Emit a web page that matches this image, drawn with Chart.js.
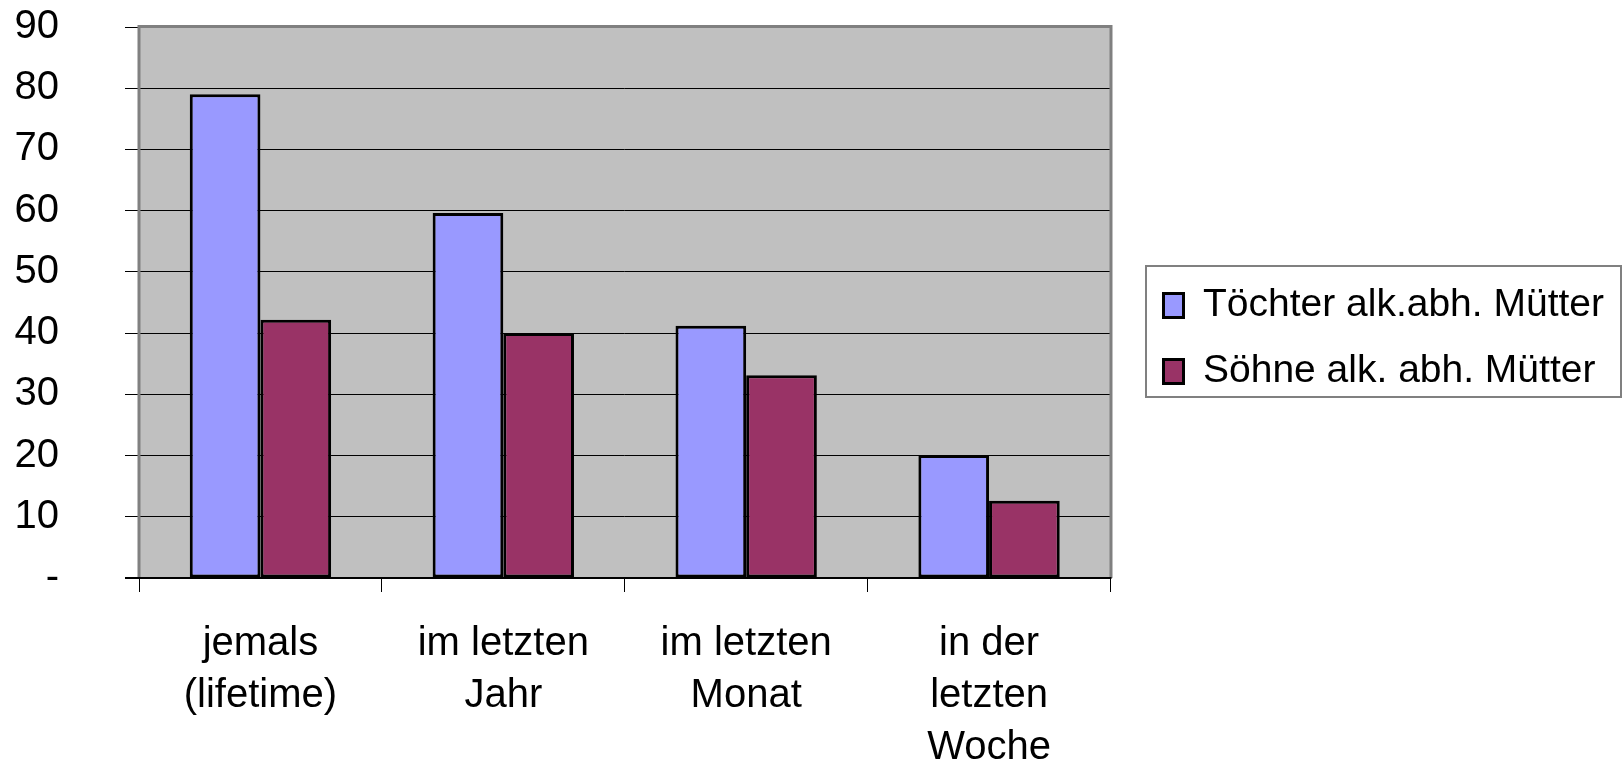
<!DOCTYPE html>
<html lang="de">
<head>
<meta charset="utf-8">
<title>Alkoholkonsum – Kinder alkoholabhängiger Mütter</title>
<script src="https://cdn.jsdelivr.net/npm/chart.js@4.4.1/dist/chart.umd.min.js"></script>
<style>
    html, body { margin: 0; padding: 0; background: #ffffff; }
    canvas { display: block; }
</style>
</head>
<body>
<canvas id="chart-konsum" width="1624" height="763"></canvas>
<script>
// --- Daten ---
const kategorien = [
    ['jemals', '(lifetime)'],
    ['im letzten', 'Jahr'],
    ['im letzten', 'Monat'],
    ['in der', 'letzten', 'Woche']
];
const serienNamen = ['Töchter alk.abh. Mütter', 'Söhne alk. abh. Mütter'];
const werteToechter = [79, 59.6, 41.2, 20.1];
const werteSoehne = [42.2, 40, 33.1, 12.6];
const yTickWerte = [0, 10, 20, 30, 40, 50, 60, 70, 80, 90];
const yTickTexte = ['-', '10', '20', '30', '40', '50', '60', '70', '80', '90'];

const schrift = "'Liberation Sans', Arial, sans-serif";

// Plotfläche grau hinterlegen, Rahmen zeichnen, Legende verschieben und einrahmen
const excelStil = {
    id: 'excelStil',
    beforeDraw(chart) {
        const a = chart.chartArea;
        const ctx = chart.ctx;
        ctx.save();
        ctx.fillStyle = '#c0c0c0';
        ctx.fillRect(a.left, a.top, a.right - a.left, a.bottom - a.top);
        ctx.restore();
    },
    afterDatasetsDraw(chart) {
        const a = chart.chartArea;
        const ctx = chart.ctx;
        ctx.save();
        // Rahmen oben, links, rechts (grau)
        ctx.strokeStyle = '#808080';
        ctx.lineWidth = 3;
        ctx.beginPath();
        ctx.moveTo(a.left, a.bottom);
        ctx.lineTo(a.left, a.top - 0.5);
        ctx.lineTo(a.right + 0.5, a.top - 0.5);
        ctx.lineTo(a.right + 0.5, a.bottom);
        ctx.stroke();
        // Grundlinie (schwarz)
        ctx.strokeStyle = '#000000';
        ctx.lineWidth = 2;
        ctx.beginPath();
        ctx.moveTo(a.left - 14, a.bottom);
        ctx.lineTo(a.right + 1, a.bottom);
        ctx.stroke();
        ctx.restore();
    },
    afterLayout(chart) {
        const lg = chart.legend;
        if (!lg) return;
        const breite = lg.width;
        lg.left = chart.chartArea.right + 26;
        lg.right = lg.left + breite;
        lg.top = 259;
    },
    afterDraw(chart) {
        const ctx = chart.ctx;
        ctx.save();
        ctx.strokeStyle = '#808080';
        ctx.lineWidth = 2;
        ctx.strokeRect(1146, 266, 475, 131);
        ctx.restore();
    }
};

document.addEventListener('DOMContentLoaded', function() {
    const ctx = document.getElementById('chart-konsum');

    new Chart(ctx, {
        type: 'bar',
        data: {
            labels: kategorien,
            datasets: [{
                label: serienNamen[0],
                data: werteToechter,
                backgroundColor: '#9999ff',
                borderColor: '#000000',
                borderWidth: 3,
                borderSkipped: false
            }, {
                label: serienNamen[1],
                data: werteSoehne,
                backgroundColor: '#993366',
                borderColor: '#000000',
                borderWidth: 3,
                borderSkipped: false
            }]
        },
        options: {
            responsive: false,
            animation: false,
            layout: { padding: { left: 0, top: 27, right: 36, bottom: 0 } },
            datasets: {
                bar: { categoryPercentage: 0.582, barPercentage: 1 }
            },
            scales: {
                x: {
                    offset: true,
                    border: { display: false },
                    grid: {
                        offset: true,
                        drawOnChartArea: false,
                        drawTicks: true,
                        tickLength: 14,
                        tickColor: '#000000',
                        tickWidth: 1
                    },
                    ticks: {
                        color: '#000000',
                        font: { family: schrift, size: 40, lineHeight: 1.3 },
                        padding: 26,
                        maxRotation: 0,
                        minRotation: 0,
                        autoSkip: false
                    },
                    afterFit(scale) { scale.height = 185; }
                },
                y: {
                    min: 0,
                    max: 90,
                    border: { display: false },
                    grid: {
                        color: '#000000',
                        lineWidth: 1,
                        tickLength: 14,
                        tickColor: '#000000'
                    },
                    ticks: {
                        stepSize: 10,
                        color: '#000000',
                        padding: 66,
                        font: { family: schrift, size: 40 },
                        callback: function(value) {
                            const i = yTickWerte.indexOf(value);
                            return i >= 0 ? yTickTexte[i] : value;
                        }
                    },
                    afterFit(scale) {
                        // feste Achsenbreite, kein Zusatzabstand oben/unten durch ticks.padding
                        scale.width = 139;
                        scale.paddingTop = 0;
                        scale.paddingBottom = 0;
                    }
                }
            },
            plugins: {
                legend: {
                    position: 'right',
                    align: 'start',
                    maxWidth: 480,
                    labels: {
                        color: '#000000',
                        font: { family: schrift, size: 39 },
                        boxWidth: 20,
                        boxHeight: 24,
                        padding: 27
                    }
                },
                title: { display: false },
                tooltip: { enabled: false }
            }
        },
        plugins: [excelStil]
    });
});
</script>
</body>
</html>
